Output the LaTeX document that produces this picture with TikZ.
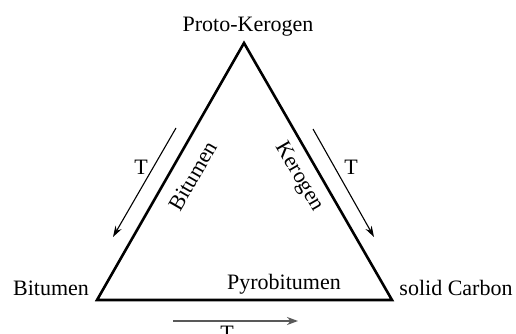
\documentclass[tikz,border=0pt]{standalone}
\usepackage{fontspec}
\setmainfont{Liberation Serif}
\usetikzlibrary{arrows.meta}
\begin{document}
\begin{tikzpicture}[x=1pt,y=-1pt,
  lbl/.style={inner sep=0pt,font=\fontsize{22}{26}\selectfont},
  edge/.style={line width=2.6pt,line join=miter},
  tarrow/.style={line width=1.1pt,-{Stealth[length=11pt,width=7pt]}},
  barrow/.style={line width=1.8pt,draw=black!65,-{Stealth[length=11pt,width=8pt,fill=black!80]}}]
\useasboundingbox (0,0) rectangle (516,334);
% vertices
\coordinate (top) at (244,43);
\coordinate (bl) at (97,300);
\coordinate (br) at (392,300);
\draw[edge] (top) -- (bl) -- (br) -- cycle;
% corner labels
\node[lbl,anchor=base] (pk) at (248,32) {Proto-Kerogen};
\node[lbl,anchor=base] (bit) at (51,295) {Bitumen};
\node[lbl,anchor=base] (sc) at (456,295) {solid Carbon};
\node[lbl,anchor=base] (pyro) at (284,289) {Pyrobitumen};
% side labels
\node[lbl,rotate=60] (sbit) at (193,176) {Bitumen};
\node[lbl,rotate=-60] (sker) at (299,177) {Kerogen};
% arrows
\coordinate (la1) at (176,128);
\coordinate (la2) at (113,237);
\draw[tarrow] (la1) -- (la2);
\node[lbl] (tl) at (141,167) {T};
\coordinate (ra1) at (313,129);
\coordinate (ra2) at (374,237);
\draw[tarrow] (ra1) -- (ra2);
\node[lbl] (tr) at (351,167) {T};
\coordinate (ba1) at (173,321);
\coordinate (ba2) at (298,321);
\draw[barrow] (ba1) -- (ba2);
\node[lbl,anchor=north] (tb) at (227,326) {T};
\end{tikzpicture}
\end{document}
